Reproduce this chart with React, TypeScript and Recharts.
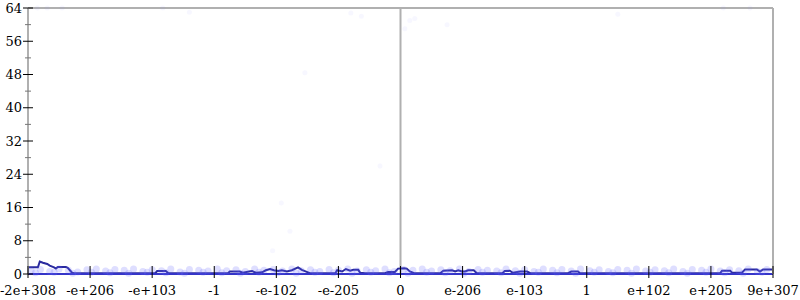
import { ComposedChart, Line, Scatter, XAxis, YAxis, ReferenceLine } from "recharts";

const W = 800;
const H = 300;
const ML = 28;
const MR = 27;
const MT = 8;
const MB = 26;
const MID = ML + (W - ML - MR) / 2;

const xTickLabels = [
  "-2e+308", "-e+206", "-e+103", "-1", "-e-102", "-e-205", "0",
  "e-206", "e-103", "1", "e+102", "e+205", "9e+307",
];
const xTicks = xTickLabels.map((_, i) => i);
const yTicks = [0, 4, 8, 12, 16, 20, 24, 28, 32, 36, 40, 44, 48, 52, 56, 60, 64];

// histogram outline (x in tick units)
const lineX = [
  0, 0.16, 0.19, 0.24, 0.31, 0.35, 0.42, 0.45, 0.48, 0.61, 0.64, 0.71, 0.74,
  2.05, 2.08, 2.22, 2.26, 3.22, 3.25, 3.41, 3.46, 3.56, 3.61, 3.67, 3.77, 3.83,
  3.9, 3.96, 4.03, 4.09, 4.17, 4.25, 4.35, 4.41, 4.49, 4.54, 4.95, 4.98, 5.06,
  5.12, 5.19, 5.24, 5.32, 5.35, 5.43, 5.75, 5.8, 5.91, 5.96, 6.06, 6.1, 6.15,
  6.22, 6.64, 6.69, 6.83, 6.88, 6.93, 6.99, 7.04, 7.09, 7.18, 7.23, 7.64, 7.68,
  7.76, 7.81, 7.93, 8.04, 8.09, 8.7, 8.75, 8.86, 8.89, 11.15, 11.18, 11.31,
  11.34, 11.5, 11.55, 11.74, 11.79, 11.84, 12,
];
const lineY = [
  1.6, 1.6, 3.0, 2.7, 2.4, 2.0, 1.6, 1.3, 1.7, 1.7, 1.5, 0.3, 0.2,
  0.2, 0.7, 0.7, 0.2, 0.2, 0.6, 0.6, 0.3, 0.6, 0.7, 0.3, 0.4, 0.9,
  1.2, 0.9, 0.7, 0.9, 0.6, 0.9, 1.6, 1.0, 0.5, 0.2, 0.2, 0.9, 0.6,
  1.2, 0.8, 1.0, 1.0, 0.3, 0.2, 0.2, 0.5, 0.5, 1.3, 1.4, 1.3, 0.6,
  0.2, 0.2, 0.8, 0.9, 0.6, 0.9, 0.6, 0.6, 0.9, 0.9, 0.2, 0.2, 0.7,
  0.8, 0.3, 0.6, 0.6, 0.2, 0.2, 0.6, 0.6, 0.2, 0.2, 0.8, 0.8,
  0.3, 0.3, 1.1, 1.1, 0.6, 1.1, 1.1,
];

// dense band of samples near zero
const bandX = [
  0.05, 0.2, 0.35, 0.5, 0.65, 0.8, 0.95, 1.1, 1.25, 1.4, 1.55, 1.7, 1.85, 2.0,
  2.15, 2.3, 2.45, 2.6, 2.75, 2.9, 3.05, 3.2, 3.35, 3.5, 3.65, 3.8, 3.95, 4.1,
  4.25, 4.4, 4.55, 4.7, 4.85, 5.0, 5.15, 5.3, 5.45, 5.6, 5.75, 5.9, 6.05, 6.2,
  6.35, 6.5, 6.65, 6.8, 6.95, 7.1, 7.25, 7.4, 7.55, 7.7, 7.85, 8.0, 8.15, 8.3,
  8.45, 8.6, 8.75, 8.9, 9.05, 9.2, 9.35, 9.5, 9.65, 9.8, 9.95, 10.1, 10.25,
  10.4, 10.55, 10.7, 10.85, 11.0, 11.15, 11.3, 11.45, 11.6, 11.75, 11.9,
  0.12, 0.42, 0.72, 1.02, 1.32, 1.62, 1.92, 2.22, 2.52, 2.82, 3.12, 3.42, 3.72,
  4.02, 4.32, 4.62, 4.92, 5.22, 5.52, 5.82, 6.12, 6.42, 6.72, 7.02, 7.32, 7.62,
  7.92, 8.22, 8.52, 8.82, 9.12, 9.42, 9.72, 10.02, 10.32, 10.62, 10.92, 11.22,
  11.52, 11.82,
];
const bandY = [
  0.8, 1.1, 0.6, 1.2, 0.9, 0.5, 1.0, 1.2, 0.7, 1.1, 0.9, 1.2, 0.6, 1.0,
  0.8, 1.2, 0.5, 1.1, 0.9, 0.7, 1.2, 0.8, 1.0, 0.6, 1.2, 0.9, 1.1, 0.7,
  1.2, 0.8, 1.0, 0.6, 1.1, 0.9, 1.2, 0.7, 1.0, 0.8, 1.2, 0.6, 1.1, 0.9,
  1.2, 0.7, 1.0, 0.8, 1.2, 0.6, 1.1, 0.9, 0.7, 1.2, 0.8, 1.0, 0.6, 1.2,
  0.9, 1.1, 0.7, 1.2, 0.8, 1.0, 0.6, 1.1, 0.9, 1.2, 0.7, 1.0, 0.8,
  1.2, 0.6, 1.1, 0.9, 1.2, 0.7, 1.0, 0.8, 1.2, 0.6, 1.1,
  0.3, 0.4, 0.2, 0.4, 0.3, 0.2, 0.4, 0.3, 0.2, 0.4, 0.3, 0.2, 0.4,
  0.3, 0.2, 0.4, 0.3, 0.2, 0.4, 0.3, 0.2, 0.4, 0.3, 0.2, 0.4, 0.3,
  0.2, 0.4, 0.3, 0.2, 0.4, 0.3, 0.2, 0.4, 0.3, 0.2, 0.4, 0.3,
  0.2, 0.4,
];

// sparse faint outliers
const outX = [4.08, 4.22, 3.94, 0.15, 0.31, 0.55, 2.17, 5.2, 5.37, 6.15, 6.23, 6.07, 6.75, 11.2, 11.63, 4.46, 5.67, 2.6, 9.5];
const outY = [17.1, 10.3, 5.6, 64, 64, 64, 64, 62.8, 62, 61, 61.5, 59, 60, 64, 64, 48.4, 26, 63, 62.5];

const lineData = lineX.map((x, i) => ({ x, y: lineY[i] }));
const bandData = bandX.map((x, i) => ({ x, y: bandY[i] }));
const outData = outX.map((x, i) => ({ x, y: outY[i] }));

const FONT = "DejaVu Serif";

const LeftTick = (props: any) => {
  const { y, payload } = props;
  const v = payload.value as number;
  const major = v % 8 === 0;
  return (
    <g>
      <line x1={ML - (major ? 5 : 3)} x2={ML + (major ? 5 : 3)} y1={y} y2={y}
        stroke={major ? "#000" : "#777"} strokeWidth={1} />
      {major && (
        <text x={ML - 6} y={y} dy={4.5} textAnchor="end" fontFamily={FONT} fontSize={13} fill="#000">
          {v}
        </text>
      )}
    </g>
  );
};

const RightTick = (props: any) => {
  const { y, payload } = props;
  const v = payload.value as number;
  const major = v % 8 === 0;
  const d = major ? 5 : 3;
  const xr = W - MR;
  return (
    <g stroke={major ? "#000" : "#777"} strokeWidth={1}>
      <line x1={xr - d} x2={xr + d} y1={y} y2={y} />
      <line x1={MID - d} x2={MID + d} y1={y} y2={y} />
    </g>
  );
};

const BottomTick = (props: any) => {
  const { x, payload } = props;
  const yb = H - MB;
  return (
    <g>
      <line x1={x} x2={x} y1={yb - 8} y2={yb + 4} stroke="#000" strokeWidth={1} />
      <text x={x} y={yb + 21} textAnchor="middle" fontFamily={FONT} fontSize={13} fill="#000">
        {xTickLabels[payload.value]}
      </text>
    </g>
  );
};

const BandDot = (props: any) => (
  <circle cx={props.cx} cy={props.cy} r={3.5} fill="#6a6aff" fillOpacity={0.22} />
);
const OutDot = (props: any) => (
  <circle cx={props.cx} cy={props.cy} r={2.5} fill="#8a8aff" fillOpacity={0.07} />
);

export default function App() {
  return (
    <div style={{ position: "absolute", left: 0, top: 0, background: "#fff" }}>
      <ComposedChart width={W} height={H} margin={{ top: MT, right: 0, bottom: 0, left: 0 }}>
        <XAxis
          type="number"
          dataKey="x"
          domain={[0, 12]}
          ticks={xTicks}
          interval={0}
          height={MB}
          tickLine={false}
          tick={<BottomTick />}
          axisLine={{ stroke: "#3434c8", strokeWidth: 2 }}
        />
        <YAxis
          yAxisId="l"
          type="number"
          domain={[0, 64]}
          ticks={yTicks}
          interval={0}
          width={ML}
          tickLine={false}
          tick={<LeftTick />}
          axisLine={{ stroke: "#b0b0b0", strokeWidth: 2 }}
        />
        <YAxis
          yAxisId="r"
          orientation="right"
          type="number"
          domain={[0, 64]}
          ticks={yTicks}
          interval={0}
          width={MR}
          tickLine={false}
          tick={<RightTick />}
          axisLine={{ stroke: "#b0b0b0", strokeWidth: 2 }}
        />
        <ReferenceLine yAxisId="l" y={64} stroke="#b0b0b0" strokeWidth={2} />
        <ReferenceLine yAxisId="l" x={6} stroke="#b0b0b0" strokeWidth={2} />
        <Scatter yAxisId="l" data={outData} dataKey="y" shape={<OutDot />} isAnimationActive={false} />
        <Scatter yAxisId="l" data={bandData} dataKey="y" shape={<BandDot />} isAnimationActive={false} />
        <Line
          yAxisId="l"
          data={lineData}
          dataKey="y"
          type="linear"
          stroke="#2a2a9e"
          strokeWidth={2}
          dot={false}
          isAnimationActive={false}
        />
      </ComposedChart>
    </div>
  );
}
